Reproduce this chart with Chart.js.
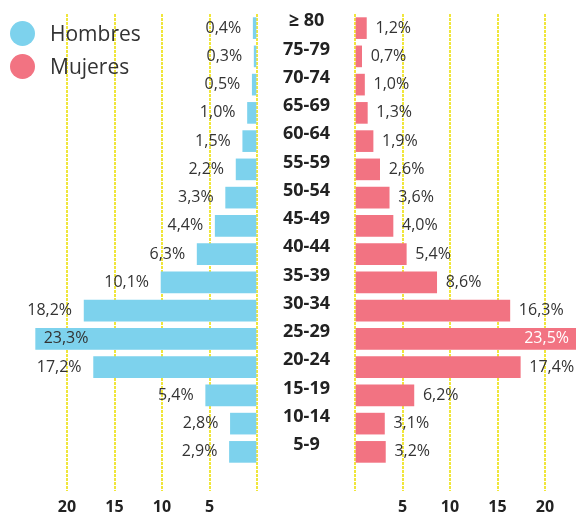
<!DOCTYPE html>
<html>
<head>
<meta charset="utf-8">
<script src="https://cdn.jsdelivr.net/npm/chart.js@4"></script>
<style>
  body { margin: 0; background: #fff; }
  #wrap { position: relative; width: 576px; height: 514px; font-family: 'Open Sans', sans-serif; }
  #izq { position: absolute; left: 0; top: 0; }
  #der { position: absolute; left: 257px; top: 0; }
  .leyenda { position: absolute; left: 10px; height: 26px; font-size: 21px; color: #333; display: flex; align-items: center; }
  .punto { width: 25px; height: 25px; border-radius: 50%; margin-right: 15px; }
</style>
</head>
<body>
<div id="wrap">
  <canvas id="izq" width="260" height="514"></canvas>
  <canvas id="der" width="319" height="514"></canvas>
  <div class="leyenda" style="top:20px"><span class="punto" style="background:#7dd2ed"></span>Hombres</div>
  <div class="leyenda" style="top:53px"><span class="punto" style="background:#f27382"></span>Mujeres</div>
</div>
<script>
const edades = ['≥ 80', '75-79', '70-74', '65-69', '60-64', '55-59', '50-54', '45-49',
  '40-44', '35-39', '30-34', '25-29', '20-24', '15-19', '10-14', '5-9'];
const hombres = [0.4, 0.3, 0.5, 1.0, 1.5, 2.2, 3.3, 4.4, 6.3, 10.1, 18.2, 23.3, 17.2, 5.4, 2.8, 2.9];
const mujeres = [1.2, 0.7, 1.0, 1.3, 1.9, 2.6, 3.6, 4.0, 5.4, 8.6, 16.3, 23.5, 17.4, 6.2, 3.1, 3.2];
const marcas = [0, 5, 10, 15, 20];

const amarillo = '#f0e63c';

// etiquetas de porcentaje al lado de cada barra
const etiquetas = {
  id: 'etiquetas',
  afterDatasetsDraw(chart, args, opts) {
    const ctx = chart.ctx;
    const valores = chart.data.datasets[0].data;
    ctx.save();
    ctx.font = '16px "Open Sans"';
    ctx.textBaseline = 'middle';
    chart.getDatasetMeta(0).data.forEach((bar, i) => {
      const txt = valores[i].toFixed(1).replace('.', ',') + '%';
      const dentro = valores[i] > 22;
      ctx.fillStyle = '#333';
      if (opts.lado === 'izq') {
        if (dentro) {
          ctx.textAlign = 'left';
          ctx.fillText(txt, bar.x + 8, bar.y);
        } else {
          ctx.textAlign = 'right';
          ctx.fillText(txt, bar.x - 12, bar.y);
        }
      } else {
        if (dentro) {
          ctx.textAlign = 'right';
          ctx.fillStyle = '#fff';
          ctx.fillText(txt, chart.chartArea.right - 7, bar.y);
        } else {
          ctx.textAlign = 'left';
          ctx.fillText(txt, bar.x + 9, bar.y);
        }
      }
    });
    ctx.restore();
  }
};

function ejeX(max, reverse) {
  return {
    type: 'linear',
    min: 0,
    max: max,
    reverse: reverse,
    afterBuildTicks(scale) { scale.ticks = marcas.map(v => ({ value: v })); },
    afterFit(scale) { scale.height = 48; },
    border: { display: false, dash: [3, 1] },
    grid: {
      color: amarillo,
      lineWidth: 2,
      drawTicks: true,
      tickLength: 25,
      tickColor: amarillo,
      tickWidth: 2,
      tickBorderDash: [3, 1]
    },
    ticks: {
      padding: 7,
      color: '#222',
      font: { family: 'Open Sans', size: 16, weight: 'bold' },
      callback: v => v === 0 ? '' : v
    }
  };
}

new Chart(document.getElementById('izq').getContext('2d'), {
  type: 'bar',
  data: {
    labels: edades,
    datasets: [{ label: 'Hombres', data: hombres, backgroundColor: '#7dd2ed', barThickness: 21 }]
  },
  options: {
    indexAxis: 'y',
    responsive: false,
    animation: false,
    layout: { padding: { top: 14, right: 3, left: 0, bottom: 0 } },
    plugins: { legend: { display: false }, tooltip: { enabled: false }, etiquetas: { lado: 'izq' } },
    scales: {
      x: ejeX(257 / 9.5, true),
      y: { display: false }
    }
  },
  plugins: [etiquetas]
});

new Chart(document.getElementById('der').getContext('2d'), {
  type: 'bar',
  data: {
    labels: edades,
    datasets: [{ label: 'Mujeres', data: mujeres, backgroundColor: '#f27382', barThickness: 21 }]
  },
  options: {
    indexAxis: 'y',
    responsive: false,
    animation: false,
    layout: { padding: { top: 14, right: 0, left: 0, bottom: 0 } },
    plugins: { legend: { display: false }, tooltip: { enabled: false }, etiquetas: { lado: 'der' } },
    scales: {
      x: ejeX(221 / 9.5, false),
      y: {
        afterFit(scale) { scale.width = 98; },
        border: { display: false },
        // la longitud de marca (sin dibujar) desplaza las etiquetas al centro
        grid: { display: false, drawTicks: true, tickLength: 25 },
        ticks: {
          crossAlign: 'center',
          padding: 0,
          labelOffset: -7,
          color: '#222',
          font: { family: 'Open Sans', size: 18, weight: 'bold' }
        }
      }
    }
  },
  plugins: [etiquetas]
});
</script>
</body>
</html>
